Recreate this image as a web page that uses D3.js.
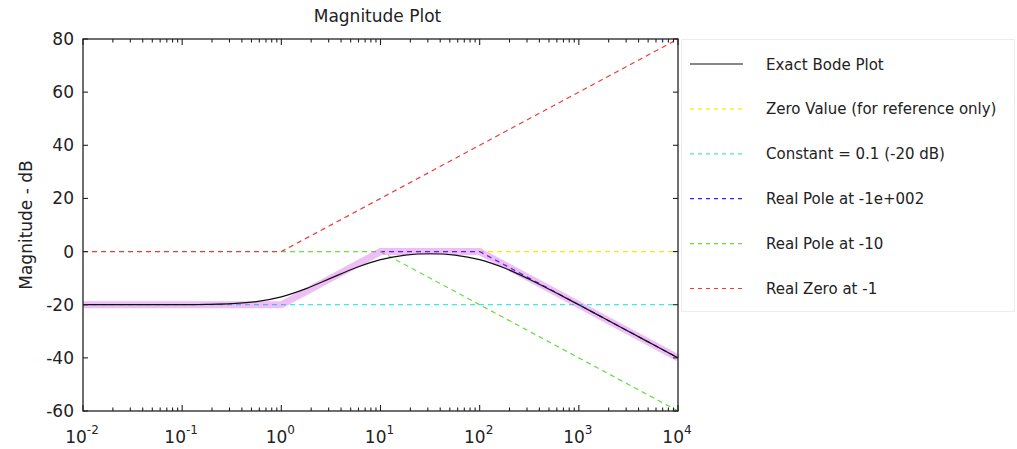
<!DOCTYPE html>
<html>
<head>
<meta charset="utf-8">
<script src="https://cdn.jsdelivr.net/npm/d3@7"></script>
<style>
  body { margin: 0; background: #fff; }
  text { font-family: "DejaVu Sans", sans-serif; fill: #222; }
</style>
</head>
<body>
<div id="bode-chart"></div>
<script>
// axis ticks
var yTicks = [-60, -40, -20, 0, 20, 40, 60, 80];
var xDecades = [-2, -1, 0, 1, 2, 3, 4];

// exact curve, read at every quarter decade (log10 of frequency / dB)
var exactExp = [-2, -1.5, -1, -0.75, -0.5, -0.25, 0, 0.25, 0.5, 0.75, 1, 1.25, 1.5, 1.75, 2, 2.25, 2.5, 2.75, 3, 3.25, 3.5, 3.75, 4];
var exactDb = [-20.0, -20.0, -19.96, -19.87, -19.59, -18.82, -17.03, -13.94, -10.0, -6.07, -3.01, -1.31, -0.82, -1.32, -3.05, -6.2, -10.41, -15.13, -20.04, -25.01, -30.0, -35.0, -40.0];

// straight-line asymptotes: breakpoints
var approxFreq = [0.01, 1, 10, 100, 10000];
var approxDb = [-20, -20, 0, 0, -40];
var zeroValFreq = [0.01, 10000];
var zeroValDb = [0, 0];
var constFreq = [0.01, 10000];
var constDb = [-20, -20];
var pole100Freq = [0.01, 100, 10000];
var pole100Db = [0, 0, -40];
var pole10Freq = [0.01, 10, 10000];
var pole10Db = [0, 0, -60];
var zero1Freq = [0.01, 1, 10000];
var zero1Db = [0, 0, 80];

var legendNames = ["Exact Bode Plot", "Zero Value (for reference only)", "Constant = 0.1 (-20 dB)",
  "Real Pole at -1e+002", "Real Pole at -10", "Real Zero at -1"];
var legendColors = ["#111", "#f2f000", "#3ee8ee", "#2424e8", "#66dd44", "#ee3a3a"];

var width = 1017, height = 449;
var plot = { left: 83, right: 678, top: 39, bottom: 411 };
var svg, x, y;

createSVG();
createScales();
drawLines();
drawAxes();
drawLegend();

function createSVG() {
  svg = d3.select("#bode-chart")
    .append("svg")
      .attr("width", width)
      .attr("height", height);
}

function createScales() {
  x = d3.scaleLog().domain([1e-2, 1e4]).range([plot.left, plot.right]);
  y = d3.scaleLinear().domain([-60, 80]).range([plot.bottom, plot.top]);
}

function pairs(fs, ds) {
  return fs.map(function(f, i) { return [f, ds[i]]; });
}

function drawLines() {
  var line = d3.line()
    .x(function(d) { return x(d[0]); })
    .y(function(d) { return y(d[1]); });

  var defs = svg.append("defs");
  var g = svg.append("g");

  // dashed asymptotes, bottom to top; the 0 dB parts hidden under a later line are clipped away
  var dashed = [
    [zeroValFreq, zeroValDb, legendColors[1], 100],
    [constFreq, constDb, legendColors[2], null],
    [pole100Freq, pole100Db, legendColors[3], 10],
    [pole10Freq, pole10Db, legendColors[4], 1],
    [zero1Freq, zero1Db, legendColors[5], null]
  ];
  dashed.forEach(function(s, i) {
    var p = g.append("path")
      .attr("d", line(pairs(s[0], s[1])))
      .attr("fill", "none")
      .attr("stroke", s[2])
      .attr("stroke-width", 1.2)
      .attr("stroke-dasharray", "5,4");
    if (s[3] !== null) {
      defs.append("clipPath").attr("id", "clip" + i)
        .append("rect")
          .attr("x", x(s[3]) + 1).attr("y", 0)
          .attr("width", width).attr("height", height);
      p.attr("clip-path", "url(#clip" + i + ")");
    }
  });

  // thick total asymptote
  g.append("path")
    .attr("d", line(pairs(approxFreq, approxDb)))
    .attr("fill", "none")
    .attr("stroke", "rgba(205,40,225,0.3)")
    .attr("stroke-width", 7);

  // exact curve
  var exactLine = d3.line()
    .x(function(d) { return x(d[0]); })
    .y(function(d) { return y(d[1]); })
    .curve(d3.curveCatmullRom.alpha(0.5));
  var exact = exactExp.map(function(e, i) { return [Math.pow(10, e), exactDb[i]]; });
  g.append("path")
    .attr("d", exactLine(exact))
    .attr("fill", "none")
    .attr("stroke", legendColors[0])
    .attr("stroke-width", 1.2);
}

function drawAxes() {
  var majors = xDecades.map(function(e) { return Math.pow(10, e); });
  var minors = [];
  xDecades.slice(0, -1).forEach(function(e) {
    for (var m = 2; m <= 9; m++) minors.push(m * Math.pow(10, e));
  });

  // frame
  svg.append("rect")
    .attr("x", plot.left).attr("y", plot.top)
    .attr("width", plot.right - plot.left)
    .attr("height", plot.bottom - plot.top)
    .attr("fill", "none")
    .attr("stroke", "#222")
    .attr("stroke-width", 1.3);

  var tickG = svg.append("g").attr("stroke", "#222").attr("stroke-width", 1.1);

  // x ticks, bottom and top, pointing inward
  [[majors, 6], [minors, 3.5]].forEach(function(t) {
    tickG.selectAll(null).data(t[0]).enter().append("line")
      .attr("x1", function(d) { return x(d); }).attr("x2", function(d) { return x(d); })
      .attr("y1", plot.bottom).attr("y2", plot.bottom - t[1]);
    tickG.selectAll(null).data(t[0]).enter().append("line")
      .attr("x1", function(d) { return x(d); }).attr("x2", function(d) { return x(d); })
      .attr("y1", plot.top).attr("y2", plot.top + t[1]);
  });

  // y ticks, left and right
  tickG.selectAll(null).data(yTicks).enter().append("line")
    .attr("x1", plot.left).attr("x2", plot.left + 5)
    .attr("y1", function(d) { return y(d); }).attr("y2", function(d) { return y(d); });
  tickG.selectAll(null).data(yTicks).enter().append("line")
    .attr("x1", plot.right).attr("x2", plot.right - 5)
    .attr("y1", function(d) { return y(d); }).attr("y2", function(d) { return y(d); });

  // y labels
  svg.append("g").selectAll("text")
    .data(yTicks)
    .enter().append("text")
      .attr("x", plot.left - 9)
      .attr("y", function(d) { return y(d) + 6; })
      .attr("text-anchor", "end")
      .style("font-size", "17px")
      .text(function(d) { return d; });

  // x labels as 10 with superscript
  var xl = svg.append("g").selectAll("text")
    .data(xDecades)
    .enter().append("text")
      .attr("x", function(d) { return x(Math.pow(10, d)) - 1; })
      .attr("y", 443)
      .attr("text-anchor", "middle")
      .style("font-size", "17px");
  xl.append("tspan").text("10");
  xl.append("tspan")
    .attr("dy", -9)
    .style("font-size", "12px")
    .text(function(d) { return d; });

  // title and y axis label
  svg.append("text")
    .attr("x", (plot.left + plot.right) / 2 - 3)
    .attr("y", 22)
    .attr("text-anchor", "middle")
    .style("font-size", "17px")
    .text("Magnitude Plot");

  svg.append("text")
    .attr("transform", "translate(32," + (plot.top + plot.bottom) / 2 + ") rotate(-90)")
    .attr("text-anchor", "middle")
    .style("font-size", "17px")
    .text("Magnitude - dB");
}

function drawLegend() {
  svg.append("rect")
    .attr("x", 681.5).attr("y", 39.5)
    .attr("width", 333).attr("height", 272)
    .attr("fill", "none")
    .attr("stroke", "#ececec");

  var items = svg.append("g").selectAll("g")
    .data(legendNames)
    .enter().append("g")
      .attr("transform", function(d, i) { return "translate(0," + (64 + i * 44.9) + ")"; });

  items.append("line")
    .attr("x1", 690).attr("x2", 743)
    .attr("stroke", function(d, i) { return legendColors[i]; })
    .attr("stroke-width", 1.2)
    .attr("stroke-dasharray", function(d, i) { return i === 0 ? null : "4,4"; });

  items.append("text")
    .attr("x", 766)
    .attr("y", 5.5)
    .style("font-size", "15px")
    .text(function(d) { return d; });
}
</script>
</body>
</html>
